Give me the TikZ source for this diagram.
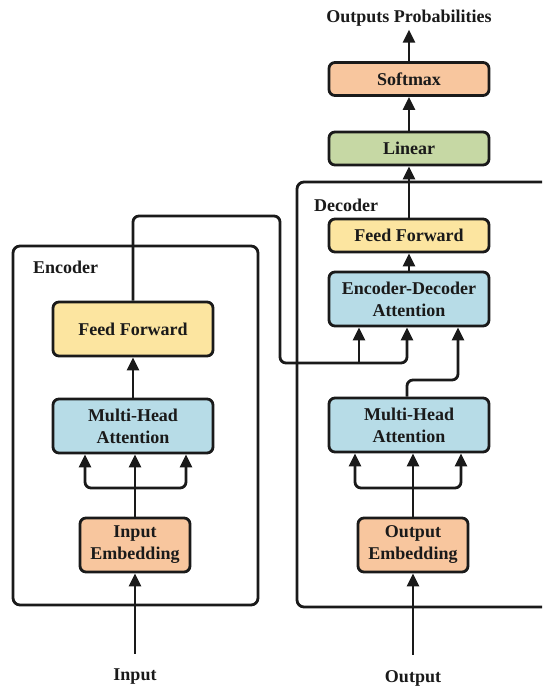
\documentclass[tikz,border=0pt]{standalone}
\usepackage{fontspec}
\setmainfont{Liberation Serif}
\usepackage{tikz}
\usetikzlibrary{arrows.meta, positioning}
\definecolor{ffyellow}{RGB}{252, 229, 160}
\definecolor{attblue}{RGB}{183, 220, 231}
\definecolor{embpeach}{RGB}{248, 198, 158}
\definecolor{lingreen}{RGB}{198, 216, 164}
\definecolor{inkgray}{RGB}{26, 26, 26}

\begin{document}
\begin{tikzpicture}[x=1pt, y=-1pt, font=\fontsize{18}{22}\selectfont\bfseries, text=inkgray]
\tikzstyle{block} = [rectangle, rounded corners=6pt, minimum width=160pt, minimum height=54pt, text centered, align=center, draw=inkgray, line width=2.8pt]
\tikzstyle{slim block} = [block, minimum height=33pt]
\tikzstyle{emb block} = [block, minimum width=110pt, fill=embpeach]
\tikzstyle{arrow} = [line width=2.8pt, draw=inkgray, -{Triangle[length=13pt, width=12pt]}]
\tikzstyle{frame} = [line width=2.8pt, draw=inkgray, rounded corners=7pt]

\useasboundingbox (0,0) rectangle (542,688);

% encoder stack
\draw[frame] (13,246) rectangle (258,605);
\node (enclabel) [anchor=base west, inner sep=0pt] at (33,273) {Encoder};
\node (eemb) [emb block] at (135,545) {Input\\Embedding};
\node (emha) [block, fill=attblue] at (133,426) {Multi-Head\\Attention};
\node (eff) [block, fill=ffyellow, node distance=97pt, above of=emha] {Feed Forward};
\node (inp) at (135,677) {Input};

\draw[arrow, shorten <=12pt] (inp) -- (eemb);
\draw[arrow] (eemb.north) -- (eemb.north |- emha.south);
\draw[arrow, rounded corners=6pt] (eemb.north |- 0,488) -| (emha.south -| 85,0);
\draw[arrow, rounded corners=6pt] (eemb.north |- 0,488) -| (emha.south -| 186,0);
\draw[arrow] (emha) -- (eff);

% decoder stack
\draw[frame] (542,182) -- (297,182) -- (297,607) -- (542,607);
\node (declabel) [anchor=base west, inner sep=0pt] at (314,211) {Decoder};
\node (demb) [emb block] at (413,545) {Output\\Embedding};
\node (dmha) [block, fill=attblue] at (409,425) {Multi-Head\\Attention};
\node (eda) [block, fill=attblue, node distance=126pt, above of=dmha] {Encoder-Decoder\\Attention};
\node (dff) [slim block, fill=ffyellow, node distance=63.5pt, above of=eda] {Feed Forward};
\node (lin) [slim block, fill=lingreen, node distance=87pt, above of=dff] {Linear};
\node (soft) [slim block, fill=embpeach, node distance=69.5pt, above of=lin] {Softmax};
\node (probs) at (409,18) {Outputs Probabilities};
\node (outp) at (413,678) {Output};

\draw[arrow, shorten <=12pt] (outp) -- (demb);
\draw[arrow] (demb.north) -- (demb.north |- dmha.south);
\draw[arrow, rounded corners=6pt] (demb.north |- 0,488) -| (dmha.south -| 355,0);
\draw[arrow, rounded corners=6pt] (demb.north |- 0,488) -| (dmha.south -| 461,0);
\draw[arrow, rounded corners=6pt] (dmha.north -| 407,0) |- (458,380) -- (eda.south -| 458,0);
\draw[arrow] (eda) -- (dff);
\draw[arrow] (dff) -- (lin);
\draw[arrow] (lin) -- (soft);
\draw[arrow] (soft) -- (probs);

% encoder output routed over to the decoder
\coordinate (hop) at (280,216);
\coordinate (tap) at (359,363);
\draw[arrow, rounded corners=6pt] (eff.north) |- (hop) -- (hop |- tap) -| (eda.south -| 407,0);
\draw[arrow] (tap) -- (eda.south -| tap);
\end{tikzpicture}
\end{document}
